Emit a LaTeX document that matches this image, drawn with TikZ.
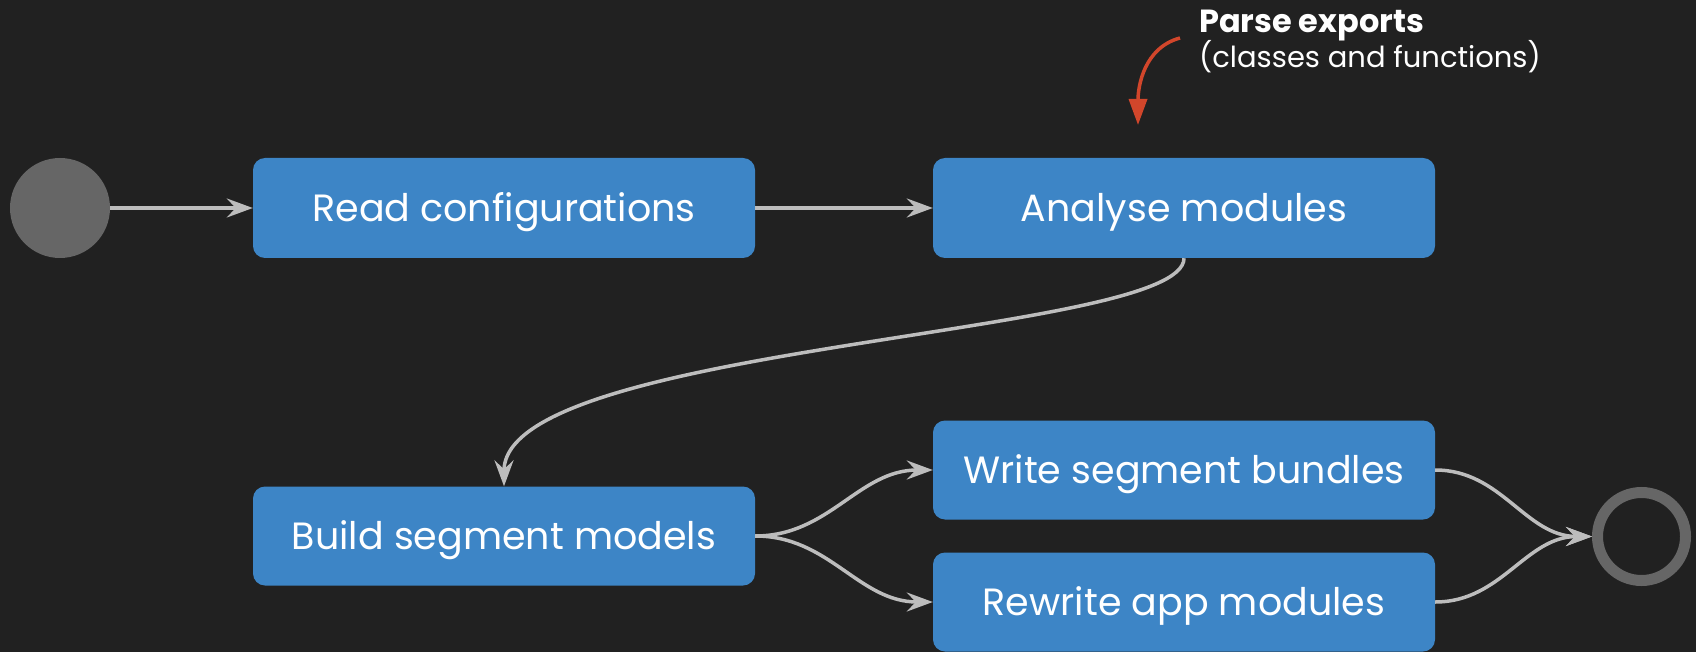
\documentclass[tikz,border=0pt]{standalone}
\usepackage{fontspec}
\setmainfont{Poppins}
\usetikzlibrary{arrows.meta}
\definecolor{bgc}{HTML}{212121}
\definecolor{boxc}{HTML}{3D85C6}
\definecolor{dotc}{HTML}{666666}
\definecolor{linec}{HTML}{BDBDBD}
\definecolor{notec}{HTML}{D2462B}
\tikzset{
  stepbox/.style={draw=none, fill=boxc, rounded corners=12pt, minimum width=502pt, minimum height=99pt, inner sep=0pt, text height=27pt, text depth=0pt, text=white, font=\fontsize{38}{42}\selectfont},
  flow/.style={draw=linec, line width=3.5pt, -{Stealth[length=26pt, width=19pt, inset=9pt]}},
  notearrow/.style={draw=notec, line width=3.5pt, -{Triangle[length=26pt, width=18pt]}},
}
\begin{document}
\begin{tikzpicture}[x=1pt, y=-1pt]
\fill[bgc] (0,0) rectangle (1696,652);
\useasboundingbox (0,0) rectangle (1696,652);
\node[circle, fill=dotc, minimum size=100pt, inner sep=0pt] (start) at (60,208) {};
\node[stepbox, minimum height=100pt] (read) at (504,208) {Read configurations};
\node[stepbox, minimum height=100pt] (analyse) at (1184,208) {Analyse modules};
\node[stepbox] (build) at (504,536) {Build segment models};
\node[stepbox] (write) at (1184,470) {Write segment bundles};
\node[stepbox] (rewrite) at (1184,602) {Rewrite app modules};
\node[circle, draw=dotc, line width=11pt, minimum size=88pt, inner sep=0pt] (end) at (1641.5,536.5) {};
\draw[flow] (start) -- (read);
\draw[flow] (read) -- (analyse);
\draw[flow] (analyse.south) .. controls +(0,78) and +(0,-143) .. (build.north);
\draw[flow] (build.east) to[out=0, in=180] (write.west);
\draw[flow] (build.east) to[out=0, in=180] (rewrite.west);
\draw[flow] (write.east) to[out=0, in=180] (end.west);
\draw[flow] (rewrite.east) to[out=0, in=180] (end.west);
\node[anchor=base west, inner sep=0pt, text=white, font=\bfseries\fontsize{32}{36}\selectfont] (note1) at (1199,33) {Parse exports};
\node[anchor=base west, inner sep=0pt, text=white, font=\fontsize{29}{32}\selectfont] (note2) at (1199,68) {(classes and functions)};
\coordinate (nA) at (1180,38);
\coordinate (nB) at (1138,125);
\draw[notearrow] (nA) to[out=195, in=90] (nB);
\end{tikzpicture}
\end{document}
